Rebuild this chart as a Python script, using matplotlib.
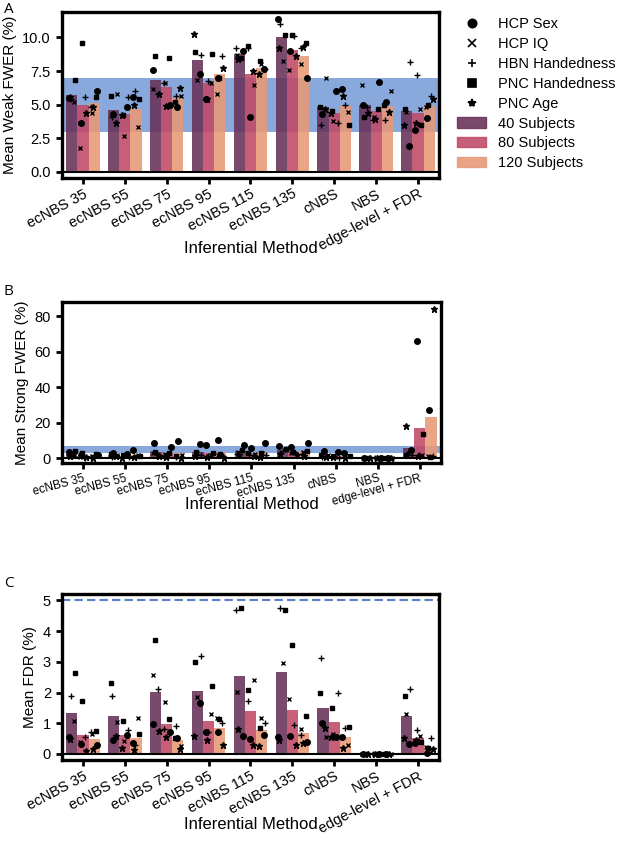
import numpy as np
import matplotlib.pyplot as plt
from matplotlib.lines import Line2D
from matplotlib.patches import Patch

methods = ["ecNBS 35", "ecNBS 55", "ecNBS 75", "ecNBS 95", "ecNBS 115",
           "ecNBS 135", "cNBS", "NBS", "edge-level + FDR"]
datasets = ["HCP Sex", "HCP IQ", "HBN Handedness", "PNC Handedness", "PNC Age"]
groups = ["40 Subjects", "80 Subjects", "120 Subjects"]

# bar heights, one row per method: 40 / 80 / 120 subjects
weak_means = [[5.7, 5.0, 5.1], [4.6, 4.3, 4.7], [6.8, 6.3, 5.5],
              [8.3, 6.6, 7.25], [8.75, 7.3, 7.7], [10.0, 9.1, 8.6],
              [4.85, 4.4, 4.9], [4.95, 4.55, 4.87], [4.5, 4.4, 4.9]]
strong_means = [[2.5, 1.5, 1.5], [2.0, 1.5, 2.0], [3.7, 2.9, 3.0],
                [3.6, 3.0, 3.4], [4.0, 3.0, 3.5], [4.5, 3.5, 4.0],
                [2.0, 1.5, 1.5], [0.3, 0.3, 0.3], [6.0, 17.0, 23.0]]
fdr_means = [[1.33, 0.62, 0.49], [1.25, 0.61, 0.51], [2.01, 0.98, 0.46],
             [2.06, 1.08, 0.86], [2.55, 1.39, 0.78], [2.68, 1.43, 0.67],
             [1.49, 1.04, 0.55], [0.0, 0.0, 0.0], [1.24, 0.51, 0.22]]

# per-dataset values: [method][subjects][HCP Sex, HCP IQ, HBN Hand, PNC Hand, PNC Age]
weak_points = [
    [[5.5, 5.2, 5.4, 6.8, 5.6], [3.6, 1.8, 5.6, 9.6, 4.4], [6.0, 4.4, 4.8, 5.6, 4.8]],
    [[4.3, 5.8, 4.1, 5.65, 3.65], [4.85, 2.65, 5.6, 4.2, 4.2], [5.6, 3.3, 6.0, 5.45, 5.0]],
    [[7.6, 6.2, 5.8, 8.6, 5.8], [5.0, 6.6, 6.6, 8.45, 4.9], [4.85, 5.65, 5.65, 5.2, 6.25]],
    [[7.25, 6.8, 8.7, 8.9, 10.25], [5.45, 6.6, 6.75, 8.8, 5.4], [7.0, 5.8, 8.6, 7.0, 7.75]],
    [[9.0, 8.7, 9.2, 8.45, 8.4], [4.1, 6.45, 9.25, 9.4, 7.5], [7.65, 8.0, 7.65, 8.25, 7.25]],
    [[11.4, 8.25, 11.0, 10.2, 9.25], [9.0, 7.6, 10.1, 10.2, 8.6], [7.0, 8.0, 9.25, 9.6, 9.3]],
    [[4.3, 7.0, 3.45, 4.8, 4.65], [6.0, 3.8, 3.6, 4.5, 4.4], [6.2, 4.45, 5.0, 3.45, 5.65]],
    [[5.0, 6.45, 4.8, 4.1, 4.4], [6.65, 4.05, 3.85, 4.65, 3.9], [5.2, 6.0, 3.85, 5.0, 4.45]],
    [[1.9, 4.45, 8.2, 4.65, 3.45], [3.1, 4.65, 7.2, 3.45, 3.6], [4.0, 4.8, 5.65, 5.0, 5.45]],
]
strong_points = [
    [[3.5, 2.0, 1.5, 4.0, 1.5], [2.0, 1.0, 0.5, 3.0, 1.0], [2.0, 1.5, 1.0, 2.5, 0.5]],
    [[3.0, 2.0, 1.0, 2.5, 1.5], [2.5, 1.5, 1.0, 2.0, 0.5], [4.5, 2.0, 1.0, 1.5, 1.0]],
    [[8.5, 3.0, 2.0, 3.5, 1.5], [6.5, 2.5, 1.5, 3.0, 1.0], [10.0, 2.0, 1.0, 1.5, 0.5]],
    [[8.0, 3.0, 2.0, 3.5, 1.5], [7.5, 2.0, 1.5, 3.0, 1.0], [10.5, 2.0, 1.5, 2.5, 0.5]],
    [[7.5, 3.5, 2.5, 4.5, 2.0], [6.0, 2.5, 2.0, 3.0, 1.5], [8.5, 3.0, 2.0, 3.0, 1.0]],
    [[7.0, 4.5, 3.0, 5.5, 2.5], [6.5, 3.0, 2.5, 3.5, 2.0], [8.5, 3.5, 2.5, 4.0, 1.5]],
    [[4.0, 2.0, 1.0, 2.0, 1.0], [3.5, 1.0, 0.5, 1.5, 1.0], [3.0, 1.5, 1.0, 1.5, 0.5]],
    [[0.5, 0.3, 0.2, 0.4, 0.1], [0.4, 0.3, 0.2, 0.5, 0.1], [0.5, 0.2, 0.3, 0.4, 0.1]],
    [[5.0, 3.0, 2.0, 2.0, 18.0], [66.0, 2.0, 2.0, 13.5, 1.5], [27.0, 1.5, 1.5, 1.0, 84.0]],
]
fdr_points = [
    [[0.55, 1.07, 1.9, 2.65, 0.48], [0.33, 0.4, 0.55, 1.72, 0.1], [0.28, 0.65, 0.7, 0.76, 0.15]],
    [[0.45, 1.03, 1.9, 2.3, 0.57], [0.62, 0.43, 0.77, 1.08, 0.18], [0.36, 1.18, 0.3, 0.65, 0.12]],
    [[0.98, 2.57, 2.1, 3.7, 0.75], [0.72, 1.7, 0.8, 1.13, 0.54], [0.53, 0.25, 0.9, 0.52, 0.15]],
    [[1.66, 1.87, 3.2, 3.0, 0.58], [0.7, 1.3, 0.7, 2.2, 0.47], [0.73, 1.18, 1.0, 1.13, 0.3]],
    [[0.6, 2.03, 4.7, 4.75, 0.8], [0.48, 2.4, 1.73, 2.07, 0.28], [0.63, 1.18, 1.0, 0.85, 0.25]],
    [[0.55, 2.95, 4.75, 4.7, 0.45], [0.58, 1.78, 0.93, 3.55, 0.3], [0.38, 0.82, 0.62, 1.23, 0.35]],
    [[1.0, 0.55, 3.12, 2.0, 0.85], [0.55, 0.65, 2.0, 1.5, 0.55], [0.55, 0.3, 0.85, 0.87, 0.2]],
    [[0.0, 0.0, 0.0, 0.0, 0.0], [0.0, 0.0, 0.0, 0.0, 0.0], [0.0, 0.0, 0.0, 0.0, 0.0]],
    [[0.33, 1.3, 2.1, 1.88, 0.53], [0.35, 0.6, 0.77, 0.38, 0.45], [0.03, 0.22, 0.52, 0.2, 0.15]],
]

bar_colors = ["#683158", "#c04966", "#e89977"]
markers = ["o", "x", "+", "s", "*"]
msizes = [4, 3.5, 4.5, 3.5, 5]
jitter = [-0.07, 0.05, -0.02, 0.08, -0.05]

plt.rcParams["font.family"] = ["Liberation Sans", "DejaVu Sans"]

fig = plt.figure(figsize=(6.2, 8.55), dpi=100)
ax_a = fig.add_axes([0.1, 0.792, 0.608, 0.194])
ax_b = fig.add_axes([0.1, 0.458, 0.611, 0.189])
ax_c = fig.add_axes([0.1, 0.111, 0.608, 0.194])


def draw(ax, means, points, ylabel, rot, tsize, label_y):
    x = np.arange(len(methods))
    w = 0.8 / 3
    means = np.array(means)
    pts = np.array(points)
    for j in range(3):
        xs = x + (j - 1) * w
        ax.bar(xs, means[:, j], width=w, color=bar_colors[j], alpha=0.88,
               zorder=2, label=groups[j])
        for i in range(len(methods)):
            off = np.roll(jitter, i * 3 + j)
            for k in range(5):
                ax.plot(xs[i] + off[k], pts[i, j, k], marker=markers[k],
                        ms=msizes[k], color="black", mew=1.0, ls="none", zorder=3)
    ax.axhline(0, color="black", lw=1.5, zorder=4)
    ax.set_xlim(-0.5, len(methods) - 0.5)
    ax.set_xticks(x)
    ax.tick_params(axis="both", direction="out", length=4.5, width=2,
                   labelsize=10.5)
    ax.tick_params(axis="x", pad=2)
    ax.set_xticklabels(methods, rotation=rot, ha="right", rotation_mode="anchor",
                       fontsize=tsize)
    for s in ax.spines.values():
        s.set_linewidth(2.4)
    ax.set_ylabel(ylabel, fontsize=11)
    ax.set_xlabel("Inferential Method", fontsize=12)
    ax.xaxis.set_label_coords(0.5, label_y)


ax_a.axhspan(3, 7, color="#3b6fc4", alpha=0.6, lw=0, zorder=1)
draw(ax_a, weak_means, weak_points, "Mean Weak FWER (%)", 28, 10.5, -0.38)
ax_a.set_ylim(-0.45, 11.9)
ax_a.set_yticks([0, 2.5, 5, 7.5, 10])
ax_a.set_yticklabels(["0.0", "2.5", "5.0", "7.5", "10.0"])

ax_b.axhspan(3, 7, color="#3b6fc4", alpha=0.6, lw=0, zorder=1)
draw(ax_b, strong_means, strong_points, "Mean Strong FWER (%)", 15, 8.5, -0.205)
ax_b.set_ylim(-2.8, 88)
ax_b.set_yticks([0, 20, 40, 60, 80])

draw(ax_c, fdr_means, fdr_points, "Mean FDR (%)", 28, 10.5, -0.345)
ax_c.axhline(5, color="#5b7fd0", lw=1.5, ls="--", dashes=(4, 2), zorder=1)
ax_c.set_ylim(-0.2, 5.2)
ax_c.set_yticks([0, 1, 2, 3, 4, 5])

for lbl, y in [("A", 0.998), ("B", 0.668), ("C", 0.326)]:
    fig.text(0.006, y, lbl, fontsize=11, family="Open Sans", va="top")

handles = [Line2D([], [], marker=m, color="black", ls="none", ms=6, mew=1.2)
           for m in markers]
handles += [Patch(color=c, alpha=0.88) for c in bar_colors]
fig.legend(handles, datasets + groups, loc="upper left",
           bbox_to_anchor=(0.716, 0.995), frameon=False, fontsize=10.5,
           handlelength=2.0, handletextpad=0.8, labelspacing=0.4)

fig.savefig("out.png", dpi=100)
